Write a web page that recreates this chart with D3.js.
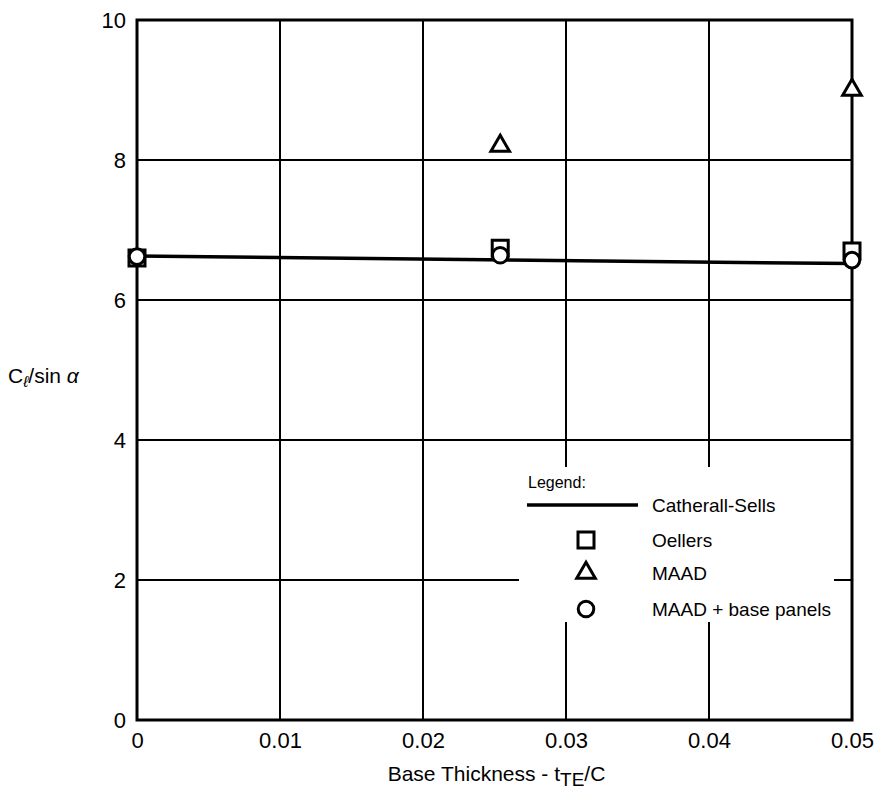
<!DOCTYPE html>
<html>
<head>
<meta charset="utf-8">
<script src="https://cdn.jsdelivr.net/npm/d3@7"></script>
<style>
  body { margin: 0; background: #fff; }
  text { font-family: "Liberation Sans", Arial, sans-serif; fill: #000; }
</style>
</head>
<body>
<div id="body"></div>
<script>
// thickness ratio t/c where the panel codes were run
var thickness = [0, 0.0254, 0.05];
var oellers = [6.6, 6.74, 6.7];
var maad = [null, 8.2, 9.0];
var maadBase = [6.62, 6.64, 6.57];
// Catherall-Sells theory line end points
var csX = [0, 0.05];
var csY = [6.63, 6.52];

var xTicks = [0, 0.01, 0.02, 0.03, 0.04, 0.05];
var xTickLabels = ["0", "0.01", "0.02", "0.03", "0.04", "0.05"];
var yTicks = [0, 2, 4, 6, 8, 10];

var legendItems = ["Catherall-Sells", "Oellers", "MAAD", "MAAD + base panels"];

var margin = {top: 20, right: 25, bottom: 71, left: 137},
    width = 877 - margin.left - margin.right,
    height = 791 - margin.top - margin.bottom;

var x = d3.scaleLinear().domain([0, 0.05]).range([0, width]);
var y = d3.scaleLinear().domain([0, 10]).range([height, 0]);

var svg = d3.select("#body").append("svg")
    .attr("width", 877)
    .attr("height", 791);

var g = svg.append("g")
    .attr("transform", "translate(" + margin.left + "," + margin.top + ")");

// grid lines
g.selectAll(".vgrid").data(xTicks.slice(1, 5))
  .enter().append("line")
    .attr("x1", function(d) { return x(d); })
    .attr("x2", function(d) { return x(d); })
    .attr("y1", 0).attr("y2", height)
    .attr("stroke", "#000").attr("stroke-width", 2);

g.selectAll(".hgrid").data(yTicks.slice(1, 5))
  .enter().append("line")
    .attr("x1", 0).attr("x2", width)
    .attr("y1", function(d) { return y(d); })
    .attr("y2", function(d) { return y(d); })
    .attr("stroke", "#000").attr("stroke-width", 2);

// legend box blanks out the grid behind it
var lgX = 382, lgY = 447;
g.append("rect")
    .attr("x", lgX).attr("y", lgY)
    .attr("width", 315).attr("height", 155)
    .attr("fill", "#fff");

// frame
g.append("rect")
    .attr("x", 0).attr("y", 0)
    .attr("width", width).attr("height", height)
    .attr("fill", "none")
    .attr("stroke", "#000").attr("stroke-width", 3);

// axes (labels only)
var xAxis = d3.axisBottom(x).tickValues(xTicks)
    .tickFormat(function(d, i) { return xTickLabels[i]; })
    .tickSize(0).tickPadding(12);
var yAxis = d3.axisLeft(y).tickValues(yTicks).tickSize(0).tickPadding(11);

g.append("g").attr("transform", "translate(0," + height + ")").call(xAxis)
    .call(function(s) { s.select(".domain").remove(); })
    .selectAll("text").style("font-size", "22px")
    .style("font-family", "Liberation Sans, Arial, sans-serif");

g.append("g").call(yAxis)
    .call(function(s) { s.select(".domain").remove(); })
    .selectAll("text").style("font-size", "22px")
    .style("font-family", "Liberation Sans, Arial, sans-serif");

// Catherall-Sells line
var line = d3.line()
    .x(function(d) { return x(d[0]); })
    .y(function(d) { return y(d[1]); });

g.append("path")
    .datum(d3.zip(csX, csY))
    .attr("d", line)
    .attr("fill", "none")
    .attr("stroke", "#000").attr("stroke-width", 3.5);

var sqSym = d3.symbol().type(d3.symbolSquare).size(256);
var triSym = d3.symbol().type(d3.symbolTriangle).size(150);
var cirSym = d3.symbol().type(d3.symbolCircle).size(190);

function markers(vals, sym, cls) {
  var pts = d3.zip(thickness, vals).filter(function(d) { return d[1] != null; });
  g.selectAll("." + cls).data(pts)
    .enter().append("path")
      .attr("class", cls)
      .attr("d", sym)
      .attr("transform", function(d) { return "translate(" + x(d[0]) + "," + y(d[1]) + ")"; })
      .attr("fill", "#fff")
      .attr("stroke", "#000").attr("stroke-width", 3);
}

markers(oellers, sqSym, "oel");
markers(maad, triSym, "maad");
markers(maadBase, cirSym, "mbase");

// legend
g.append("text")
    .attr("x", lgX + 9).attr("y", lgY + 21)
    .style("font-size", "16px")
    .text("Legend:");

var rowY = [38, 73, 106, 142];
g.append("line")
    .attr("x1", lgX + 8).attr("x2", lgX + 119)
    .attr("y1", lgY + rowY[0]).attr("y2", lgY + rowY[0])
    .attr("stroke", "#000").attr("stroke-width", 3.5);

var legSyms = [null, sqSym, triSym, cirSym];
legSyms.forEach(function(s, i) {
  if (!s) return;
  g.append("path")
    .attr("d", s)
    .attr("transform", "translate(" + (lgX + 67) + "," + (lgY + rowY[i]) + ")")
    .attr("fill", "#fff")
    .attr("stroke", "#000").attr("stroke-width", 3);
});

g.selectAll(".legtext").data(legendItems)
  .enter().append("text")
    .attr("x", lgX + 133)
    .attr("y", function(d, i) { return lgY + rowY[i]; })
    .attr("dy", "0.36em")
    .style("font-size", "19px")
    .text(function(d) { return d; });

// axis titles
var yl = svg.append("text")
    .attr("x", 8).attr("y", 383)
    .style("font-size", "21px");
yl.append("tspan").text("C");
yl.append("tspan").attr("dy", 4).style("font-size", "16px").style("font-style", "italic").text("ℓ");
yl.append("tspan").attr("dy", -4).text("/sin ");
yl.append("tspan").style("font-style", "italic").text("α");

var xl = svg.append("text")
    .attr("x", margin.left + width / 2 + 2).attr("y", 781)
    .attr("text-anchor", "middle")
    .style("font-size", "21px");
xl.append("tspan").text("Base Thickness - t");
xl.append("tspan").attr("dy", 5).style("font-size", "19px").text("TE");
xl.append("tspan").attr("dy", -5).text("/C");
</script>
</body>
</html>
